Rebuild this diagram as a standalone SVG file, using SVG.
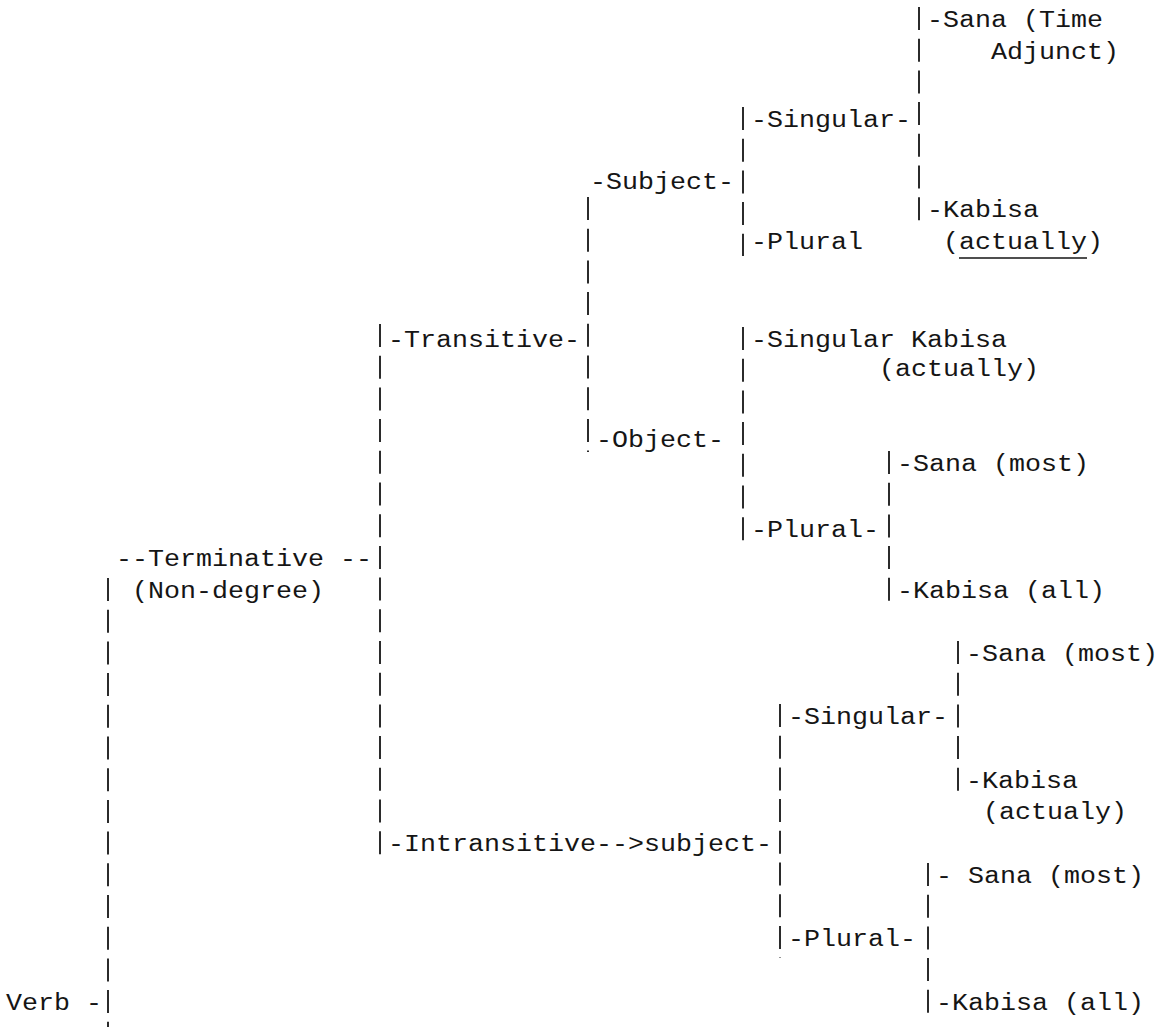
<svg xmlns="http://www.w3.org/2000/svg" width="1162" height="1027" viewBox="0 0 1162 1027">
<style>
text{font-family:"Liberation Mono","DejaVu Sans Mono",monospace;font-size:23px;fill:#151515}
.bar{stroke:#151515;stroke-width:1.8;fill:none;stroke-dasharray:23 8.7}
.ul{stroke:#151515;stroke-width:1.6}
</style>
<rect width="1162" height="1027" fill="#fff"/>
<g id="connectors">
<path class="bar" d="M108 578V1027"/>
<path class="bar" d="M380 324V856"/>
<path class="bar" d="M588 197V452"/>
<path class="bar" d="M743 107V256"/>
<path class="bar" d="M743 327V542"/>
<path class="bar" d="M919 7V222"/>
<path class="bar" d="M889 451V603"/>
<path class="bar" d="M780 704V958"/>
<path class="bar" d="M958 641V793"/>
<path class="bar" d="M928 863V1015"/>
</g>
<g id="verb"><text x="6" y="1010" textLength="96" lengthAdjust="spacingAndGlyphs">Verb -</text></g>
<g id="terminative"><text x="116" y="566" textLength="256" lengthAdjust="spacingAndGlyphs">--Terminative --</text><text x="132" y="598" textLength="192" lengthAdjust="spacingAndGlyphs">(Non-degree)</text></g>
<g id="transitive"><text x="388" y="347" textLength="192" lengthAdjust="spacingAndGlyphs">-Transitive-</text></g>
<g id="intransitive"><text x="388" y="851" textLength="384" lengthAdjust="spacingAndGlyphs">-Intransitive--&gt;subject-</text></g>
<g id="t-subject"><text x="590" y="189" textLength="144" lengthAdjust="spacingAndGlyphs">-Subject-</text></g>
<g id="t-object"><text x="596" y="447" textLength="128" lengthAdjust="spacingAndGlyphs">-Object-</text></g>
<g id="ts-singular"><text x="751" y="127" textLength="160" lengthAdjust="spacingAndGlyphs">-Singular-</text></g>
<g id="ts-plural"><text x="751" y="249" textLength="112" lengthAdjust="spacingAndGlyphs">-Plural</text></g>
<g id="ts-sana"><text x="927" y="27" textLength="176" lengthAdjust="spacingAndGlyphs">-Sana (Time</text><text x="991" y="59" textLength="128" lengthAdjust="spacingAndGlyphs">Adjunct)</text></g>
<g id="ts-kabisa"><text x="927" y="217" textLength="112" lengthAdjust="spacingAndGlyphs">-Kabisa</text><text x="943" y="249" textLength="160" lengthAdjust="spacingAndGlyphs">(actually)</text><line class="ul" x1="959" y1="258" x2="1087" y2="258"/></g>
<g id="to-singular"><text x="751" y="347" textLength="256" lengthAdjust="spacingAndGlyphs">-Singular Kabisa</text><text x="879" y="376" textLength="160" lengthAdjust="spacingAndGlyphs">(actually)</text></g>
<g id="to-plural"><text x="751" y="537" textLength="128" lengthAdjust="spacingAndGlyphs">-Plural-</text></g>
<g id="to-sana"><text x="897" y="471" textLength="192" lengthAdjust="spacingAndGlyphs">-Sana (most)</text></g>
<g id="to-kabisa"><text x="897" y="598" textLength="208" lengthAdjust="spacingAndGlyphs">-Kabisa (all)</text></g>
<g id="is-singular"><text x="788" y="724" textLength="160" lengthAdjust="spacingAndGlyphs">-Singular-</text></g>
<g id="is-sana"><text x="966" y="661" textLength="192" lengthAdjust="spacingAndGlyphs">-Sana (most)</text></g>
<g id="is-kabisa"><text x="966" y="788" textLength="112" lengthAdjust="spacingAndGlyphs">-Kabisa</text><text x="983" y="819" textLength="144" lengthAdjust="spacingAndGlyphs">(actualy)</text></g>
<g id="ip-plural"><text x="788" y="946" textLength="128" lengthAdjust="spacingAndGlyphs">-Plural-</text></g>
<g id="ip-sana"><text x="936" y="883" textLength="208" lengthAdjust="spacingAndGlyphs">- Sana (most)</text></g>
<g id="ip-kabisa"><text x="936" y="1010" textLength="208" lengthAdjust="spacingAndGlyphs">-Kabisa (all)</text></g>
</svg>
